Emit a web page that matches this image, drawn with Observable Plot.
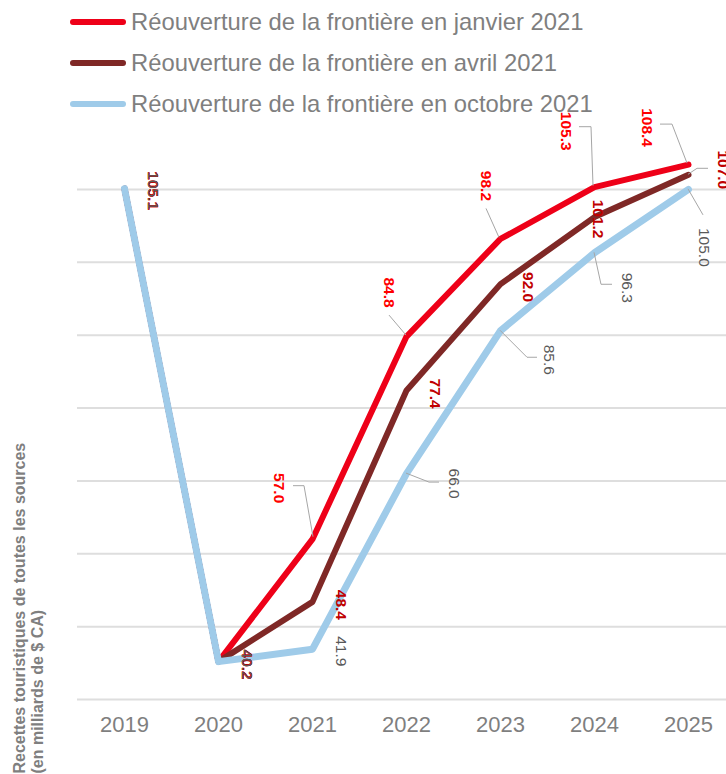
<!DOCTYPE html>
<html><head><meta charset="utf-8">
<script src="https://cdn.jsdelivr.net/npm/d3@7"></script>
<script src="https://cdn.jsdelivr.net/npm/@observablehq/plot@0.6"></script>
<style>
body{margin:0;background:#fff;font-family:"Liberation Sans",Arial,sans-serif;}
#wrap{position:relative;width:726px;height:774px;overflow:hidden;}
#legend{position:absolute;left:0;top:0;width:726px;}
.row{position:absolute;left:70px;height:41px;display:flex;align-items:center;white-space:nowrap;}
.row span{font-size:23.8px;color:#7f7f7f;margin-left:5px;}
</style></head><body><div id="wrap"><div id="chart"></div><div id="legend"></div></div>
<script>
// ---- data ----
const years = ["2019", "2020", "2021", "2022", "2023", "2024", "2025"];
const seriesNames = [
  "Réouverture de la frontière en janvier 2021",
  "Réouverture de la frontière en avril 2021",
  "Réouverture de la frontière en octobre 2021"
];
const janValues = [105.1, 40.2, 57.0, 84.8, 98.2, 105.3, 108.4];
const aprValues = [105.1, 40.2, 48.4, 77.4, 92.0, 101.2, 107.0];
const octValues = [105.1, 40.2, 41.9, 66.0, 85.6, 96.3, 105.0];
const yGridValues = [35, 45, 55, 65, 75, 85, 95, 105];
const yTitle = "Recettes touristiques de toutes les sources\n(en milliards de $ CA)";

// ---- styles / label layout (pixels) ----
const lineColors = ["#ee0018", "#7f2826", "#9fcbe9"];
const labelColors = ["#ff0000", "#c00000", "#595959"];
const labelWeights = ["bold", "bold", "normal"];
const lineWidths = [6, 6, 7];
const labelOffsets = [
  [[28,2],[28,3],[-34,-51],[-18,-44],[-15,-53],[-29,-56],[-42,-37]],
  [[28,2],[28,3],[28,3],[28,3],[27,3],[3,2],[34,-5]],
  [[28,2],[28,3],[28,2],[47,10],[48,29],[32,35],[15,58]]
];
const leaderPaths = [
  [null, null, [[-19,-53],[-8,-53],[1,-2]], [[-17,-21],[0,-1]], [[-14,-30],[-1,-1]], [[-15,-60],[-3,-60],[-1,-1]], [[-28,-40],[-16,-40],[-1,-1]]],
  [null, null, null, null, null, null, [[0,0],[9,-6],[20,-6]]],
  [null, null, null, [[0,0],[23,9],[33,9]], [[0,0],[27,27],[37,27]], [[0,0],[7,32],[18,32]], [[0,0],[15,26]]]
];

const allValues = [janValues, aprValues, octValues];
const rows = [];
allValues.forEach((vals, s) => vals.forEach((v, i) => rows.push({series: seriesNames[s], s, i, year: years[i], value: v})));

const FONT = "Liberation Sans, Arial, sans-serif";
const marks = [
  Plot.ruleY(yGridValues, {stroke: "#dedede", strokeWidth: 2}),
  Plot.axisX({tickSize: 0, tickPadding: 17, fontSize: 22, fill: "#7f7f7f", label: null, fontFamily: FONT}),
];
allValues.forEach((vals, s) => {
  marks.push(Plot.line(rows.filter(r => r.s === s), {
    x: "year", y: "value", stroke: lineColors[s], strokeWidth: lineWidths[s],
    strokeLinejoin: "round", strokeLinecap: "round"
  }));
});
allValues.forEach((vals, s) => {
  rows.filter(r => r.s === s).forEach(r => {
    const [dx, dy] = labelOffsets[s][r.i];
    marks.push(Plot.text([r], {
      x: "year", y: "value", text: d => d.value.toFixed(1), rotate: 90,
      dx, dy, fill: labelColors[s], fontWeight: labelWeights[s], fontSize: 15.5,
      textAnchor: "middle", fontFamily: FONT
    }));
  });
});
marks.push(Plot.text([yTitle], {
  frameAnchor: "bottom-left", text: d => d, rotate: -90, textAnchor: "start",
  dx: -35, dy: 74, fontSize: 16, fontWeight: "bold", fill: "#7f7f7f",
  lineHeight: 1.125, fontFamily: FONT
}));

const chart = Plot.plot({
  width: 726, height: 774,
  marginLeft: 77, marginRight: 0, marginTop: 116, marginBottom: 75,
  style: {fontFamily: FONT, background: "#fff", overflow: "visible"},
  x: {type: "point", domain: years, range: [123, 688], padding: 0},
  y: {domain: [35, 115], axis: null},
  marks
});
document.getElementById("chart").appendChild(chart);

// leader lines, positioned with Plot's own scales
const xs = chart.scale("x"), ys = chart.scale("y");
const g = d3.select(chart).append("g").attr("fill", "none").attr("stroke", "#a6a6a6").attr("stroke-width", 1);
rows.forEach(r => {
  const path = leaderPaths[r.s][r.i];
  if (!path) return;
  const px = xs.apply(r.year), py = ys.apply(r.value);
  g.append("path").attr("d", d3.line()(path.map(([a, b]) => [px + a, py + b])));
});
const textGroups = chart.querySelectorAll("g[aria-label='text']");
if (textGroups.length) chart.insertBefore(g.node(), textGroups[0]);

// legend
const legend = d3.select("#legend");
seriesNames.forEach((name, s) => {
  const row = legend.append("div").attr("class", "row").style("top", (1 + s * 41) + "px");
  const sw = row.append("svg").attr("width", 56).attr("height", 10);
  sw.append("line").attr("x1", 3).attr("x2", 53).attr("y1", 5).attr("y2", 5)
    .attr("stroke", lineColors[s]).attr("stroke-width", 6).attr("stroke-linecap", "round");
  row.append("span").text(name);
});
</script></body></html>
